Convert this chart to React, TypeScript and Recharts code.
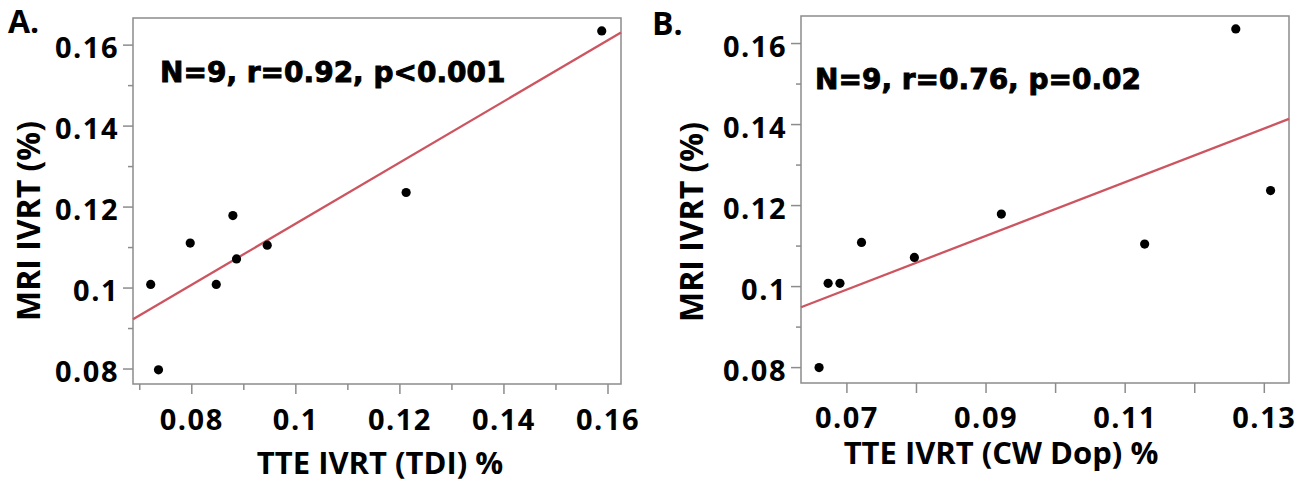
import React from 'react';
import { ScatterChart, Scatter, XAxis, YAxis, ReferenceLine, ReferenceArea } from 'recharts';

// Panel A: TTE IVRT (TDI) vs MRI IVRT
const tdiX = [0.0721, 0.0736, 0.0797, 0.0847, 0.0879, 0.0886, 0.0945, 0.1212, 0.1588];
const tdiY = [0.1009, 0.0798, 0.1111, 0.1009, 0.1179, 0.1072, 0.1106, 0.1236, 0.1635];
const tdiFitX = [0.0687, 0.1625];
const tdiFitY = [0.0923, 0.1631];

// Panel B: TTE IVRT (CW Doppler) vs MRI IVRT
const cwX = [0.066, 0.0673, 0.069, 0.0721, 0.0797, 0.0922, 0.1128, 0.1259, 0.1309];
const cwY = [0.08, 0.1008, 0.1008, 0.1109, 0.1072, 0.1179, 0.1105, 0.1636, 0.1237];
const cwFitX = [0.0634, 0.13355];
const cwFitY = [0.0949, 0.1414];

// ticks (major ones get labels)
const yTicks = [0.08, 0.09, 0.1, 0.11, 0.12, 0.13, 0.14, 0.15, 0.16];
const yMajor = [0.08, 0.1, 0.12, 0.14, 0.16];
const tdiTicks = [0.07, 0.08, 0.09, 0.1, 0.11, 0.12, 0.13, 0.14, 0.15, 0.16];
const tdiMajor = [0.08, 0.1, 0.12, 0.14, 0.16];
const cwTicks = [0.07, 0.08, 0.09, 0.1, 0.11, 0.12, 0.13];
const cwMajor = [0.07, 0.09, 0.11, 0.13];

const GRAY = '#8c8c8c';
const RED = '#cc5560';
const TICK_FONT = { fontFamily: '"Open Sans", sans-serif', fontWeight: 700, fontSize: 29, letterSpacing: 1.5 };

const fmt = (v: number) => String(Number(v.toFixed(2)));
const isIn = (v: number, list: number[]) => list.some(m => Math.abs(m - v) < 1e-9);

const toPoints = (xs: number[], ys: number[]) => xs.map((x, i) => ({ x, y: ys[i] }));

const Dot = (props: any) => <circle cx={props.cx} cy={props.cy} r={4.6} fill="#000" />;

function makeXTick(major: number[], minorLen: number, labelOffset: number) {
  return (props: any) => {
    const { x, y, payload } = props;
    const big = isIn(payload.value, major);
    return (
      <g>
        <line x1={x} x2={x} y1={y} y2={y + (big ? 10 : minorLen)} stroke={GRAY} strokeWidth={1.5} />
        {big && (
          <text x={x} y={y + labelOffset} textAnchor="middle" fill="#000" style={TICK_FONT}>
            {fmt(payload.value)}
          </text>
        )}
      </g>
    );
  };
}

function makeYTick() {
  return (props: any) => {
    const { x, y, payload } = props;
    const big = isIn(payload.value, yMajor);
    return (
      <g>
        <line x1={x} x2={x - (big ? 10 : 5)} y1={y} y2={y} stroke={GRAY} strokeWidth={1.5} />
        {big && (
          <text x={x - 14} y={y + 13} textAnchor="end" fill="#000" style={TICK_FONT}>
            {fmt(payload.value)}
          </text>
        )}
      </g>
    );
  };
}

interface PanelProps {
  width: number;
  margin: { top: number; right: number; bottom: number; left: number };
  yWidth: number;
  xHeight: number;
  xDomain: [number, number];
  yDomain: [number, number];
  xTicks: number[];
  xMajor: number[];
  xMinorLen: number;
  xLabelOffset: number;
  pts: { x: number; y: number }[];
  fit: { x: number; y: number }[];
}

function Panel(p: PanelProps) {
  return (
    <ScatterChart width={p.width} height={481} margin={p.margin}>
      <XAxis
        type="number"
        dataKey="x"
        domain={p.xDomain}
        allowDataOverflow
        ticks={p.xTicks}
        interval={0}
        tickLine={false}
        tickSize={0}
        tickMargin={0}
        axisLine={false}
        height={p.xHeight}
        tick={makeXTick(p.xMajor, p.xMinorLen, p.xLabelOffset)}
      />
      <YAxis
        type="number"
        dataKey="y"
        domain={p.yDomain}
        allowDataOverflow
        ticks={yTicks}
        interval={0}
        tickLine={false}
        tickSize={0}
        tickMargin={0}
        axisLine={false}
        width={p.yWidth}
        tick={makeYTick()}
      />
      <ReferenceArea
        x1={p.xDomain[0]}
        x2={p.xDomain[1]}
        y1={p.yDomain[0]}
        y2={p.yDomain[1]}
        fill="none"
        fillOpacity={0}
        stroke={GRAY}
        strokeWidth={1.5}
        ifOverflow="visible"
      />
      <ReferenceLine segment={p.fit} stroke={RED} strokeWidth={2.3} ifOverflow="visible" />
      <Scatter data={p.pts} shape={Dot} isAnimationActive={false} />
    </ScatterChart>
  );
}

const titleFont = { fontFamily: '"Open Sans", sans-serif', fontWeight: 700 };
const statFont = {
  fontFamily: '"DejaVu Sans", sans-serif',
  fontWeight: 700,
  fontSize: 28,
  stroke: '#000',
  strokeWidth: 0.9,
};

export default function App() {
  return (
    <div style={{ position: 'absolute', left: 0, top: 0, width: 1307, height: 481, background: '#fff' }}>
      <div style={{ position: 'absolute', left: 0, top: 0 }}>
        <Panel
          width={650}
          margin={{ top: 18, right: 29, bottom: 0, left: 0 }}
          yWidth={133}
          xHeight={97}
          xDomain={[0.0687, 0.1625]}
          yDomain={[0.0763, 0.1667]}
          xTicks={tdiTicks}
          xMajor={tdiMajor}
          xMinorLen={6}
          xLabelOffset={46}
          pts={toPoints(tdiX, tdiY)}
          fit={toPoints(tdiFitX, tdiFitY)}
        />
      </div>
      <div style={{ position: 'absolute', left: 650, top: 0 }}>
        <Panel
          width={657}
          margin={{ top: 16, right: 18, bottom: 0, left: 0 }}
          yWidth={151}
          xHeight={98}
          xDomain={[0.0634, 0.13355]}
          yDomain={[0.0762, 0.1668]}
          xTicks={cwTicks}
          xMajor={cwMajor}
          xMinorLen={10}
          xLabelOffset={45}
          pts={toPoints(cwX, cwY)}
          fit={toPoints(cwFitX, cwFitY)}
        />
      </div>
      {/* titles, panel letters and stats */}
      <svg width={1307} height={481} style={{ position: 'absolute', left: 0, top: 0, pointerEvents: 'none' }}>
        <text x={8} y={33} style={{ ...titleFont, fontSize: 32 }}>A.</text>
        <text x={652} y={35} style={{ ...titleFont, fontSize: 32 }}>B.</text>
        <text x={160} y={82} style={statFont}>N=9, r=0.92, p&lt;0.001</text>
        <text x={815} y={89} style={statFont}>N=9, r=0.76, p=0.02</text>
        <text transform="translate(40,221) rotate(-90)" textAnchor="middle" style={{ ...titleFont, fontSize: 32 }}>
          MRI IVRT (%)
        </text>
        <text transform="translate(703,222) rotate(-90)" textAnchor="middle" style={{ ...titleFont, fontSize: 32 }}>
          MRI IVRT (%)
        </text>
        <text x={380} y={474} textAnchor="middle" style={{ ...titleFont, fontSize: 31 }}>
          TTE IVRT (TDI) %
        </text>
        <text x={1001} y={464} textAnchor="middle" style={{ ...titleFont, fontSize: 31 }}>
          TTE IVRT (CW Dop) %
        </text>
      </svg>
    </div>
  );
}
